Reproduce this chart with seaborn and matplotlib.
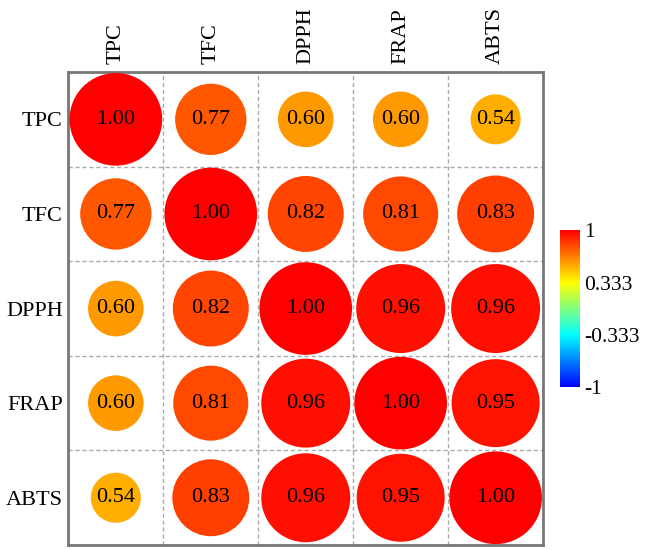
import numpy as np
import pandas as pd
import matplotlib.pyplot as plt
import seaborn as sns
from matplotlib.colors import LinearSegmentedColormap, Normalize
from matplotlib.cm import ScalarMappable

# variables and correlation matrix
labels = ["TPC", "TFC", "DPPH", "FRAP", "ABTS"]
corr = np.array([
    [1.00, 0.77, 0.60, 0.60, 0.54],
    [0.77, 1.00, 0.82, 0.81, 0.83],
    [0.60, 0.82, 1.00, 0.96, 0.96],
    [0.60, 0.81, 0.96, 1.00, 0.95],
    [0.54, 0.83, 0.96, 0.95, 1.00],
])
cbar_ticks = [-1, -0.333, 0.333, 1]
cbar_labels = ["-1", "-0.333", "0.333", "1"]

sns.set_style("white")
plt.rcParams["font.family"] = ["Liberation Serif", "DejaVu Serif"]
plt.rcParams["text.color"] = "black"
plt.rcParams["xtick.color"] = "black"
plt.rcParams["ytick.color"] = "black"

n = len(labels)
rows, cols = np.meshgrid(np.arange(n), np.arange(n), indexing="ij")
df = pd.DataFrame({
    "col": cols.ravel(),
    "row": rows.ravel(),
    "r": corr.ravel(),
})
df["r2"] = df["r"] ** 2

cmap = LinearSegmentedColormap.from_list(
    "corr", [(0.0, "#0000ff"), (1 / 3, "#00ffff"), (2 / 3, "#ffff00"), (1.0, "#ff0000")]
)

fig = plt.figure(figsize=(6.45, 5.5), dpi=100)
ax = fig.add_axes([0.106, 0.009, 0.736, 0.860])

sns.scatterplot(
    data=df, x="col", y="row", hue="r", palette=cmap, hue_norm=(-1, 1),
    size="r2", sizes=(0, 4450), size_norm=(0, 1), legend=False,
    linewidth=0, ax=ax, zorder=3,
)

for _, d in df.iterrows():
    ax.text(d["col"], d["row"], f"{d['r']:.2f}", ha="center", va="center",
            fontsize=16, color="black", zorder=4)

ax.set_xlim(-0.5, n - 0.5)
ax.set_ylim(n - 0.5, -0.5)
ax.set_xticks(range(n))
ax.set_yticks(range(n))
ax.set_xticklabels(labels, rotation=90, fontsize=16)
ax.set_yticklabels(labels, fontsize=16)
ax.xaxis.tick_top()
ax.tick_params(axis="y", length=0, pad=4)
ax.tick_params(axis="x", length=0, pad=6)
ax.set_xlabel("")
ax.set_ylabel("")

for k in range(1, n):
    ax.axvline(k - 0.5, color="#aaaaaa", ls=(0, (3, 2)), lw=1, zorder=1)
    ax.axhline(k - 0.5, color="#aaaaaa", ls=(0, (3, 2)), lw=1, zorder=1)
for s in ax.spines.values():
    s.set_color("#777777")
    s.set_linewidth(2)

cax = fig.add_axes([0.868, 0.296, 0.031, 0.285])
sm = ScalarMappable(norm=Normalize(-1, 1), cmap=cmap)
cb = fig.colorbar(sm, cax=cax, ticks=cbar_ticks)
cb.ax.set_yticklabels(cbar_labels, fontsize=15.5)
cb.ax.tick_params(length=0, pad=3)
cb.outline.set_visible(False)

fig.savefig("out.png", dpi=100)
